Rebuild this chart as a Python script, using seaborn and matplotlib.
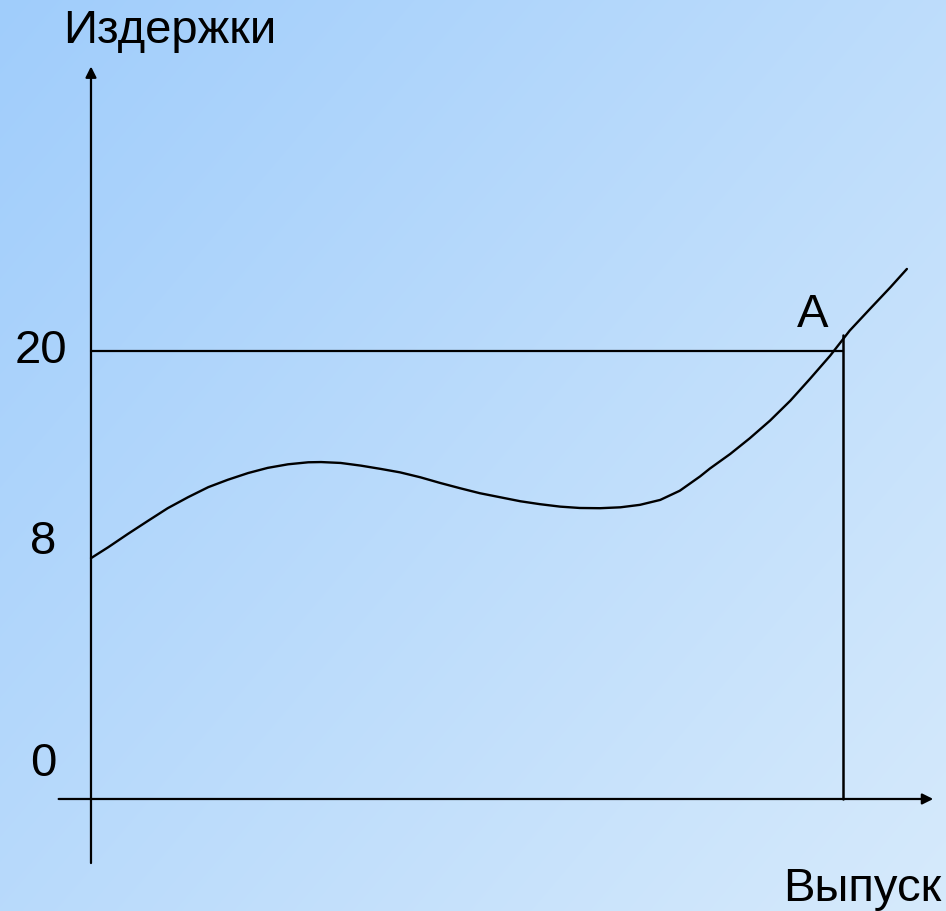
import numpy as np
import pandas as pd
import matplotlib.pyplot as plt
import seaborn as sns

# Данные кривой издержек (выпуск, издержки)
output = [0.00, 0.23, 0.49, 0.76, 1.02, 1.29, 1.56, 1.82, 2.09, 2.35, 2.62, 2.89,
          3.06, 3.32, 3.59, 3.86, 4.11, 4.38, 4.64, 4.91, 5.17, 5.44, 5.71, 5.97,
          6.24, 6.50, 6.77, 7.04, 7.30, 7.57, 7.83, 8.10, 8.23, 8.50, 8.76, 9.03,
          9.30, 9.56, 9.83, 10.09, 10.36, 10.63, 10.85]
cost = [10.75, 11.24, 11.83, 12.42, 12.98, 13.47, 13.92, 14.25, 14.55, 14.78, 14.94, 15.03,
        15.04, 15.00, 14.88, 14.73, 14.58, 14.36, 14.11, 13.87, 13.65, 13.47, 13.29, 13.16,
        13.05, 12.99, 12.98, 13.02, 13.13, 13.35, 13.76, 14.40, 14.75, 15.40, 16.10, 16.89,
        17.78, 18.75, 19.79, 20.91, 21.88, 22.84, 23.66]

point_a_output = 10.0
point_a_cost = 20.0
a_line_top = 20.7
y_tick_labels = ['20', '8', '0']

curve = pd.DataFrame({'Выпуск': output, 'Издержки': cost})

sns.set_theme(style='white')
plt.rcParams['font.family'] = ['Liberation Sans', 'DejaVu Sans']

fig = plt.figure(figsize=(9.46, 9.12), dpi=100)
ax = fig.add_axes([0, 0, 1, 1])
xlim = (-1.21, 11.37)
ylim = (-5.0, 35.71)
ax.set_xlim(*xlim)
ax.set_ylim(*ylim)
ax.axis('off')

# Фон с диагональным градиентом
h, w = 912, 946
gx, gy = np.meshgrid(np.linspace(0, 1, w), np.linspace(0, 1, h))
t = (gx * 0.55 + gy * 0.45)[..., None]
c0 = np.array([160, 205, 251]) / 255
c1 = np.array([214, 234, 252]) / 255
bg = c0 * (1 - t) + c1 * t
ax.imshow(bg, extent=(xlim[0], xlim[1], ylim[0], ylim[1]), aspect='auto',
          origin='upper', zorder=0)

# Оси со стрелками
arrow = dict(arrowstyle='-|>', color='black', lw=1.6, mutation_scale=16,
             shrinkA=0, shrinkB=0)
ax.annotate('', xy=(11.2, 0), xytext=(-0.43, 0), arrowprops=arrow, zorder=3)
ax.annotate('', xy=(0, 32.7), xytext=(0, -2.86), arrowprops=arrow, zorder=3)

# Кривая издержек
sns.lineplot(data=curve, x='Выпуск', y='Издержки', color='black', lw=1.7,
             sort=False, ax=ax, zorder=4)

# Линии к точке A
ax.plot([0, point_a_output], [point_a_cost, point_a_cost], color='black', lw=1.6, zorder=3)
ax.plot([point_a_output, point_a_output], [0, a_line_top], color='black', lw=1.8, zorder=3)

# Подписи
fs = 34
txt = dict(fontsize=fs, ha='left', va='baseline', color='black')
ax.text(-0.37, 33.8, 'Издержки', **txt)
ax.text(9.2, -4.5, 'Выпуск', **txt)
ax.text(9.39, 21.12, 'A', **txt)
for lab, (tx, ty) in zip(y_tick_labels, [(-1.02, 19.5), (-0.81, 10.98), (-0.81, 1.07)]):
    ax.text(tx, ty, lab, **txt)

fig.savefig('out.png', dpi=100)
